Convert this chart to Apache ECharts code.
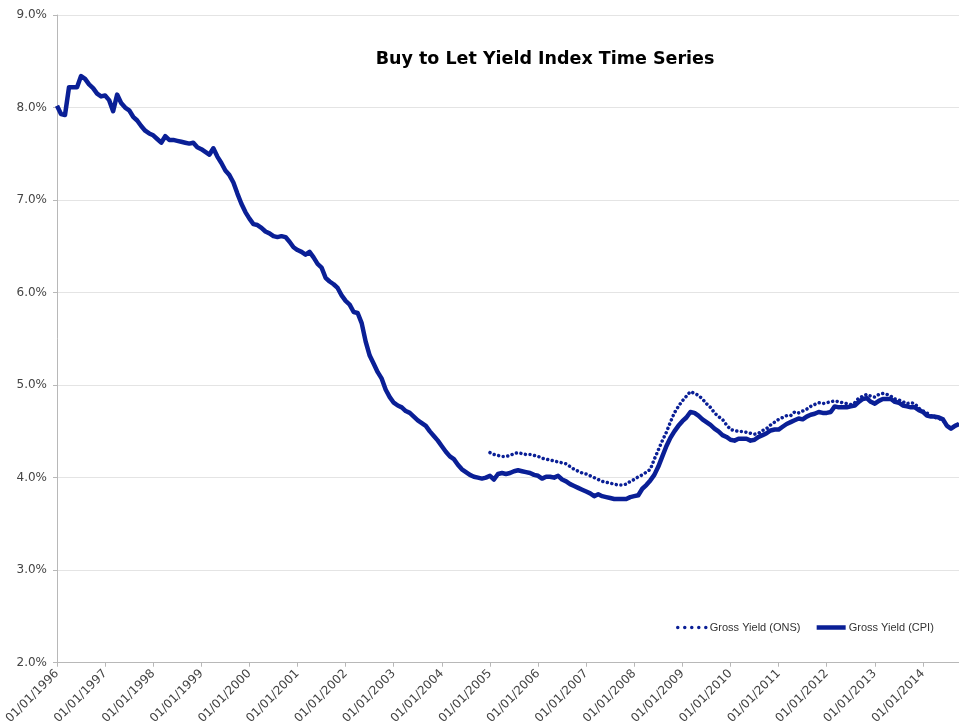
<!DOCTYPE html>
<html>
<head>
<meta charset="utf-8">
<script src="https://cdn.jsdelivr.net/npm/echarts@6/dist/echarts.min.js"></script>
<style>
  html, body { margin: 0; padding: 0; background: #fff; }
  #chart { width: 959px; height: 727px; }
</style>
</head>
<body>
<div id="chart"></div>
<script>
// monthly, Jan 1996 .. Oct 2014
const startYear = 1996;
const monthCount = 226;

// Gross Yield (CPI), % per month
const cpiYield = [
  8.02, 7.93, 7.92, 8.22, 8.22, 8.22, 8.34, 8.31, 8.25, 8.21, 8.15, 8.12,
  8.13, 8.08, 7.96, 8.14, 8.05, 8.00, 7.97, 7.90, 7.86, 7.80, 7.75, 7.72,
  7.70, 7.66, 7.62, 7.69, 7.65, 7.65, 7.64, 7.63, 7.62, 7.61, 7.62, 7.57,
  7.55, 7.52, 7.49, 7.56, 7.47, 7.40, 7.32, 7.27, 7.19, 7.07, 6.96, 6.87,
  6.80, 6.74, 6.73, 6.70, 6.66, 6.64, 6.61, 6.60, 6.61, 6.60, 6.55, 6.49,
  6.46, 6.44, 6.41, 6.44, 6.38, 6.31, 6.27, 6.16, 6.12, 6.09, 6.05, 5.97,
  5.91, 5.87, 5.79, 5.78, 5.67, 5.47, 5.32, 5.23, 5.14, 5.07, 4.95, 4.87,
  4.81, 4.78, 4.76, 4.72, 4.70, 4.66, 4.62, 4.59, 4.56, 4.50, 4.45, 4.40,
  4.34, 4.28, 4.23, 4.20, 4.14, 4.09, 4.06, 4.03, 4.01, 4.00, 3.99, 4.00,
  4.02, 3.98, 4.04, 4.05, 4.04, 4.05, 4.07, 4.08, 4.07, 4.06, 4.05, 4.03,
  4.02, 3.99, 4.01, 4.01, 4.00, 4.02, 3.98, 3.96, 3.93, 3.91, 3.89, 3.87,
  3.85, 3.83, 3.80, 3.82, 3.80, 3.79, 3.78, 3.77, 3.77, 3.77, 3.77, 3.79,
  3.80, 3.81, 3.88, 3.92, 3.97, 4.03, 4.12, 4.23, 4.34, 4.43, 4.50, 4.56,
  4.61, 4.65, 4.71, 4.70, 4.67, 4.63, 4.60, 4.57, 4.53, 4.50, 4.46, 4.44,
  4.41, 4.40, 4.42, 4.42, 4.42, 4.40, 4.41, 4.44, 4.46, 4.48, 4.51, 4.52,
  4.52, 4.55, 4.58, 4.60, 4.62, 4.64, 4.63, 4.66, 4.68, 4.69, 4.71, 4.70,
  4.70, 4.71, 4.77, 4.76, 4.76, 4.76, 4.77, 4.78, 4.82, 4.85, 4.86, 4.82,
  4.80, 4.83, 4.85, 4.85, 4.85, 4.82, 4.81, 4.78, 4.77, 4.76, 4.76, 4.73,
  4.71, 4.67, 4.66, 4.66, 4.65, 4.63, 4.56, 4.53, 4.56, 4.58
];

// Gross Yield (ONS), starts Jan 2005
const onsStartIndex = 108;
const onsYield = [
  4.27, 4.25, 4.24, 4.23, 4.23, 4.24, 4.26, 4.27, 4.26, 4.25, 4.25, 4.24,
  4.23, 4.21, 4.20, 4.19, 4.18, 4.17, 4.16, 4.15, 4.12, 4.09, 4.07, 4.05,
  4.04, 4.02, 4.00, 3.98, 3.96, 3.95, 3.94, 3.93, 3.92, 3.92, 3.93, 3.96,
  3.98, 4.01, 4.03, 4.06, 4.09, 4.20, 4.30, 4.40, 4.49, 4.60, 4.70, 4.77,
  4.83, 4.88, 4.93, 4.91, 4.89, 4.85, 4.80, 4.76, 4.70, 4.66, 4.63, 4.57,
  4.52, 4.51, 4.50, 4.50, 4.49, 4.48, 4.47, 4.48, 4.51, 4.53, 4.57, 4.60,
  4.63, 4.65, 4.67, 4.67, 4.71, 4.70, 4.72, 4.74, 4.77, 4.79, 4.81, 4.80,
  4.81, 4.82, 4.83, 4.82, 4.81, 4.80, 4.79, 4.81, 4.86, 4.88, 4.90, 4.88,
  4.87, 4.90, 4.91, 4.90, 4.88, 4.85, 4.84, 4.82, 4.80, 4.81, 4.80, 4.75,
  4.72, 4.70, 4.67, 4.65, 4.64, 4.62, 4.56, 4.53, 4.56, 4.58
];

const yTicks = [2, 3, 4, 5, 6, 7, 8, 9];

const months = [];
for (let i = 0; i < monthCount; i++) {
  const y = startYear + Math.floor(i / 12);
  const m = (i % 12) + 1;
  months.push('01/' + (m < 10 ? '0' + m : m) + '/' + y);
}
const onsFull = [];
for (let i = 0; i < monthCount; i++) {
  const k = i - onsStartIndex;
  onsFull.push(k >= 0 && k < onsYield.length ? onsYield[k] : null);
}

const navy = '#0a1f96';
const chart = echarts.init(document.getElementById('chart'));

chart.setOption({
  backgroundColor: '#fff',
  animation: false,
  title: {
    text: 'Buy to Let Yield Index Time Series',
    left: 540,
    top: 45,
    textAlign: 'center',
    textStyle: { fontFamily: 'DejaVu Sans', fontSize: 17.5, fontWeight: 'bold', color: '#000' }
  },
  legend: {
    orient: 'horizontal',
    left: 676,
    top: 622,
    width: 290,
    itemWidth: 29,
    itemHeight: 8,
    itemGap: 14,
    padding: 0,
    itemStyle: { opacity: 0 },
    textStyle: { fontFamily: 'Liberation Sans', fontSize: 11, color: '#333', padding: [0, 0, 0, -2] },
    data: [
      { name: 'Gross Yield (ONS)', lineStyle: { width: 3.5, type: [0.01, 7], cap: 'round' } },
      { name: 'Gross Yield (CPI)', lineStyle: { width: 4.5 } }
    ]
  },
  grid: { left: 57, top: 15, right: 0, bottom: 63 },
  xAxis: {
    type: 'category',
    data: months,
    boundaryGap: false,
    axisLine: { lineStyle: { color: '#b8b8b8' } },
    axisTick: {
      length: 4,
      lineStyle: { color: '#b8b8b8' },
      interval: (i) => i % 12 === 0
    },
    axisLabel: {
      rotate: 45,
      fontFamily: 'DejaVu Sans',
      fontSize: 12,
      color: '#444',
      margin: 9,
      interval: (i) => i % 12 === 0
    },
    splitLine: { show: false }
  },
  yAxis: {
    type: 'value',
    min: yTicks[0],
    max: yTicks[yTicks.length - 1],
    interval: 1,
    axisLine: { show: true, lineStyle: { color: '#b8b8b8' } },
    axisTick: { show: true, length: 4, lineStyle: { color: '#b8b8b8' } },
    axisLabel: {
      fontFamily: 'DejaVu Sans',
      fontSize: 12,
      color: '#444',
      margin: 10,
      formatter: (v) => v.toFixed(1) + '%'
    },
    splitLine: { lineStyle: { color: '#e4e4e4' } }
  },
  series: [
    {
      name: 'Gross Yield (ONS)',
      type: 'line',
      data: onsFull,
      symbol: 'none',
      lineStyle: { color: navy, width: 3.5, type: [0.01, 4.6], cap: 'round' },
      itemStyle: { color: navy }
    },
    {
      name: 'Gross Yield (CPI)',
      type: 'line',
      data: cpiYield,
      symbol: 'none',
      lineStyle: { color: navy, width: 4.5, join: 'round' },
      itemStyle: { color: navy }
    }
  ]
});
</script>
</body>
</html>
